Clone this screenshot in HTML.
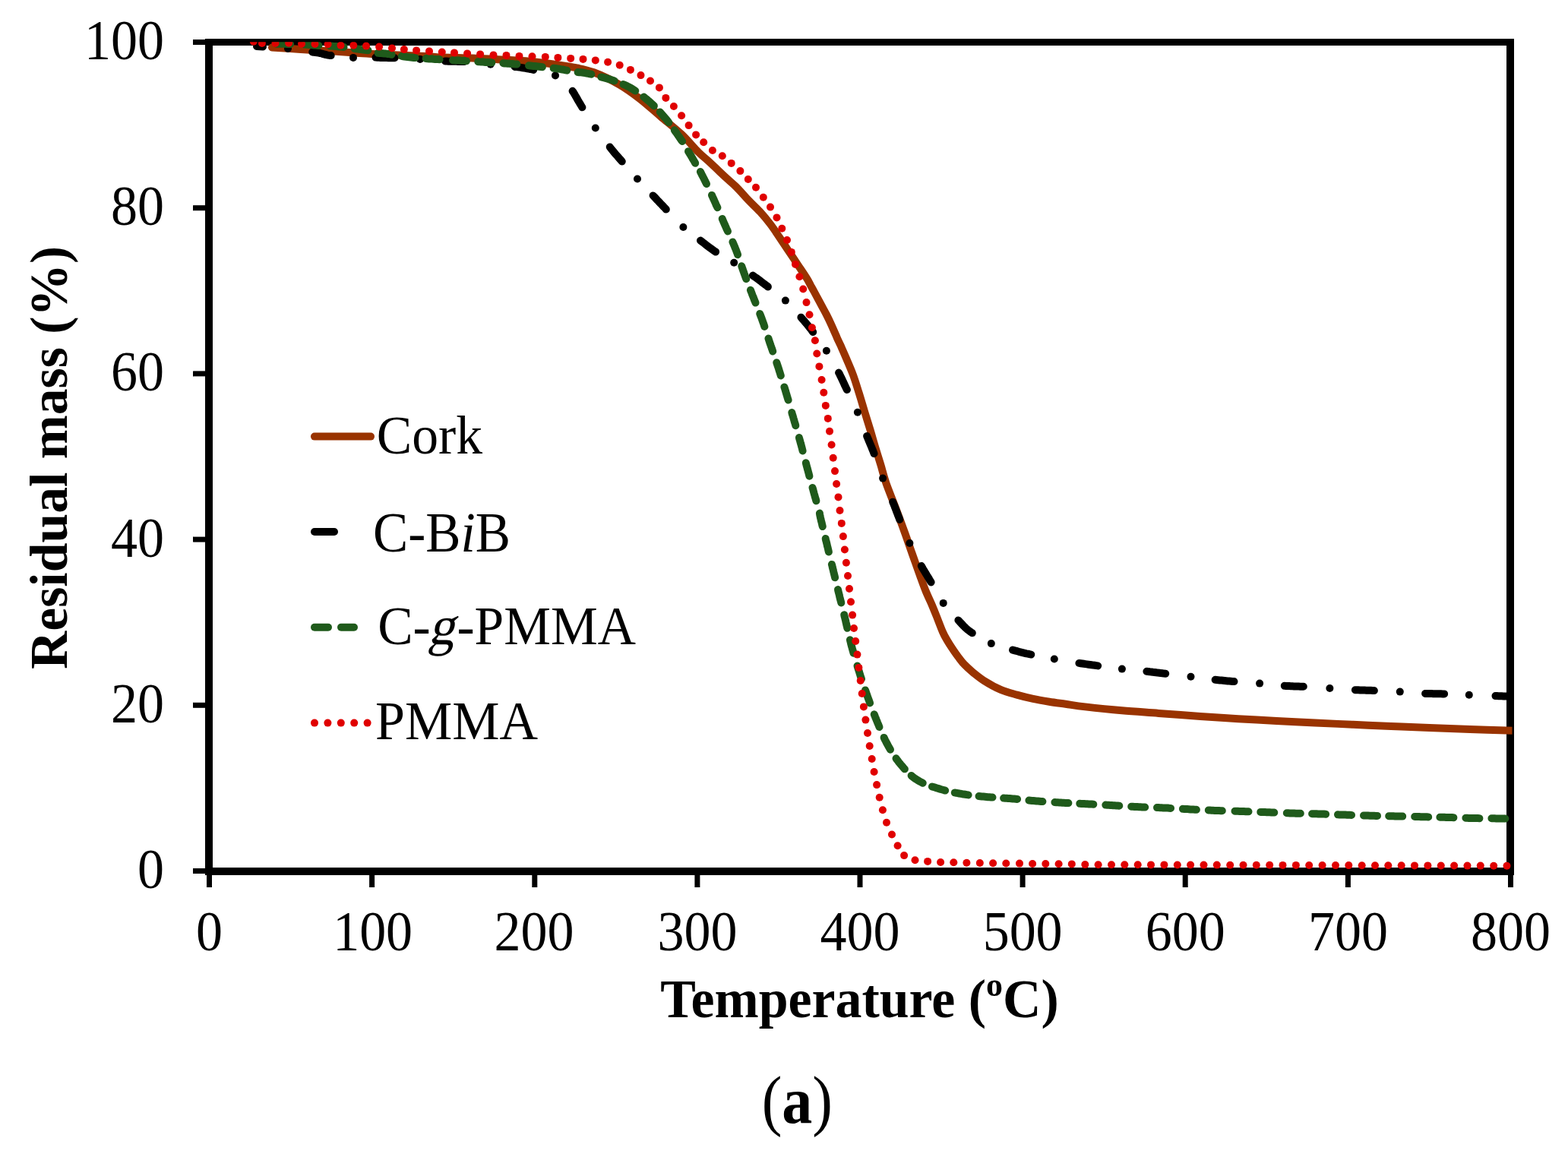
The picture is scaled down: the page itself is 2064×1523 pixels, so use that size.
<!DOCTYPE html>
<html><head><meta charset="utf-8"><title>TGA</title>
<style>html,body{margin:0;padding:0;background:#fff;overflow:hidden}svg{display:block}text{font-family:"Liberation Serif","Times New Roman",serif;fill:#000}</style>
</head><body>
<svg width="2064" height="1523" viewBox="0 0 2064 1523">
<rect x="0" y="0" width="2064" height="1523" fill="#fff"/>
<defs><clipPath id="pa"><rect x="275" y="55.3" width="1715.5" height="1091.7"/></clipPath></defs>
<g stroke="#000" fill="none" stroke-linecap="butt">
<line x1="270" y1="55.5" x2="1993" y2="55.5" stroke-width="9"/>
<line x1="270" y1="1147" x2="1993" y2="1147" stroke-width="10"/>
<line x1="275" y1="51" x2="275" y2="1152" stroke-width="10"/>
<line x1="1988" y1="51" x2="1988" y2="1152" stroke-width="10"/>
<line x1="254" y1="1146.5" x2="272" y2="1146.5" stroke-width="7"/>
<line x1="254" y1="928.3" x2="272" y2="928.3" stroke-width="7"/>
<line x1="254" y1="710.1" x2="272" y2="710.1" stroke-width="7"/>
<line x1="254" y1="491.9" x2="272" y2="491.9" stroke-width="7"/>
<line x1="254" y1="273.7" x2="272" y2="273.7" stroke-width="7"/>
<line x1="254" y1="55.5" x2="272" y2="55.5" stroke-width="7"/>
<line x1="275.5" y1="1150" x2="275.5" y2="1168" stroke-width="7"/>
<line x1="489.6" y1="1150" x2="489.6" y2="1168" stroke-width="7"/>
<line x1="703.8" y1="1150" x2="703.8" y2="1168" stroke-width="7"/>
<line x1="917.9" y1="1150" x2="917.9" y2="1168" stroke-width="7"/>
<line x1="1132.0" y1="1150" x2="1132.0" y2="1168" stroke-width="7"/>
<line x1="1346.1" y1="1150" x2="1346.1" y2="1168" stroke-width="7"/>
<line x1="1560.2" y1="1150" x2="1560.2" y2="1168" stroke-width="7"/>
<line x1="1774.4" y1="1150" x2="1774.4" y2="1168" stroke-width="7"/>
<line x1="1988.5" y1="1150" x2="1988.5" y2="1168" stroke-width="7"/>
</g>
<g font-size="70">
<text transform="translate(216.10 1169.00) scale(1.0000 1.0700)" text-anchor="end">0</text>
<text transform="translate(216.10 950.80) scale(1.0000 1.0700)" text-anchor="end">20</text>
<text transform="translate(216.10 732.60) scale(1.0000 1.0700)" text-anchor="end">40</text>
<text transform="translate(216.10 514.40) scale(1.0000 1.0700)" text-anchor="end">60</text>
<text transform="translate(216.10 296.20) scale(1.0000 1.0700)" text-anchor="end">80</text>
<text transform="translate(216.10 78.00) scale(1.0000 1.0700)" text-anchor="end">100</text>
<text transform="translate(275.50 1251.00) scale(1.0000 1.0700)" text-anchor="middle">0</text>
<text transform="translate(490.62 1251.00) scale(1.0000 1.0700)" text-anchor="middle">100</text>
<text transform="translate(703.05 1251.00) scale(1.0000 1.0700)" text-anchor="middle">200</text>
<text transform="translate(917.88 1251.00) scale(1.0000 1.0700)" text-anchor="middle">300</text>
<text transform="translate(1132.00 1251.00) scale(1.0000 1.0700)" text-anchor="middle">400</text>
<text transform="translate(1346.12 1251.00) scale(1.0000 1.0700)" text-anchor="middle">500</text>
<text transform="translate(1560.25 1251.00) scale(1.0000 1.0700)" text-anchor="middle">600</text>
<text transform="translate(1774.38 1251.00) scale(1.0000 1.0700)" text-anchor="middle">700</text>
<text transform="translate(1988.50 1251.00) scale(1.0000 1.0700)" text-anchor="middle">800</text>
</g>
<text transform="translate(1131.50 1338.70) scale(0.9980 1.0200)" font-size="70" font-weight="bold" text-anchor="middle">Temperature (<tspan font-size="44" dy="-27">o</tspan><tspan dy="27">C)</tspan></text>
<text transform="translate(88,602.4) rotate(-90) scale(0.995 1)" font-size="70" font-weight="bold" text-anchor="middle">Residual mass (%)</text>
<text transform="translate(1049.35 1478.00) scale(1.0000 1.1000)" font-size="80" text-anchor="middle">(<tspan font-weight="bold">a</tspan>)</text>
<g clip-path="url(#pa)" fill="none" stroke-width="10" stroke-linecap="round" stroke-linejoin="round">
<path d="M358.0 62.5 C360.8 62.7 368.7 63.1 375.0 63.5 C381.3 63.9 388.5 64.5 396.0 65.0 C403.5 65.5 411.7 66.0 420.0 66.5 C428.3 67.0 437.2 67.4 446.0 68.0 C454.8 68.6 464.0 69.4 473.0 70.0 C482.0 70.6 492.3 71.1 500.0 71.5 C507.7 71.9 510.7 72.0 519.0 72.3 C527.3 72.6 539.3 73.0 550.0 73.5 C560.7 74.0 571.0 75.0 583.0 75.5 C595.0 76.0 610.0 76.0 622.0 76.5 C634.0 77.0 643.3 77.6 655.0 78.2 C666.7 78.8 681.3 79.5 692.0 80.3 C702.7 81.1 708.5 81.8 719.0 83.2 C729.5 84.6 744.5 86.7 755.0 88.7 C765.5 90.7 771.6 91.5 781.7 95.3 C791.8 99.1 805.5 105.7 815.7 111.6 C825.9 117.5 833.8 123.5 842.8 130.5 C851.8 137.5 860.8 145.9 869.9 153.6 C879.0 161.3 888.9 169.0 897.1 176.7 C905.3 184.4 913.1 194.1 919.0 200.0 C924.9 205.9 926.5 206.5 932.6 212.2 C938.7 217.8 949.6 228.2 955.7 233.9 C961.8 239.6 964.2 241.1 969.2 246.1 C974.2 251.1 980.3 258.4 985.5 263.8 C990.7 269.2 995.6 273.5 1000.4 278.7 C1005.1 283.9 1009.7 289.4 1014.0 295.0 C1018.3 300.6 1022.4 307.0 1026.2 312.6 C1030.0 318.2 1033.0 322.8 1037.1 328.9 C1041.2 335.0 1046.4 342.9 1050.6 349.2 C1054.8 355.5 1059.6 362.5 1062.3 366.9 C1065.0 371.2 1065.3 372.4 1066.9 375.3 C1068.5 378.2 1069.5 379.9 1071.7 384.0 C1073.9 388.1 1077.4 394.6 1080.1 399.7 C1082.8 404.8 1085.7 409.9 1088.0 414.4 C1090.3 418.9 1091.7 421.8 1094.0 426.8 C1096.3 431.8 1099.7 439.8 1101.7 444.4 C1103.7 448.9 1104.3 449.8 1106.2 454.1 C1108.1 458.4 1110.4 463.4 1113.2 470.0 C1116.0 476.6 1120.1 485.7 1123.0 493.6 C1125.9 501.5 1128.2 509.4 1130.7 517.3 C1133.2 525.2 1135.4 533.0 1137.8 540.9 C1140.2 548.8 1142.7 556.6 1145.1 564.5 C1147.5 572.4 1149.6 580.2 1152.0 588.1 C1154.4 596.0 1156.9 603.9 1159.3 611.8 C1161.7 619.7 1162.9 625.8 1166.2 635.4 C1169.5 645.0 1175.3 658.9 1179.3 669.5 C1183.3 680.1 1186.7 689.2 1190.2 699.0 C1193.8 708.8 1197.1 718.7 1200.6 728.5 C1204.1 738.3 1208.0 749.6 1211.1 758.0 C1214.2 766.4 1216.3 772.5 1219.0 779.0 C1221.7 785.5 1224.7 791.5 1227.0 797.0 C1229.3 802.5 1230.8 806.2 1233.1 812.0 C1235.4 817.8 1238.8 826.9 1241.0 832.0 C1243.2 837.1 1244.5 839.1 1246.6 842.6 C1248.6 846.1 1250.9 849.7 1253.3 853.3 C1255.7 856.9 1258.1 860.5 1260.8 864.0 C1263.5 867.5 1265.9 871.1 1269.3 874.6 C1272.7 878.1 1276.5 881.6 1281.0 885.3 C1285.5 888.9 1290.0 892.7 1296.0 896.5 C1302.0 900.3 1310.2 904.9 1317.3 907.9 C1324.4 910.9 1331.5 912.6 1338.6 914.6 C1345.7 916.6 1352.8 918.4 1359.9 919.9 C1367.0 921.4 1374.1 922.6 1381.2 923.8 C1388.3 924.9 1394.7 925.7 1402.6 926.8 C1410.5 927.9 1416.0 929.0 1428.4 930.4 C1440.8 931.8 1460.8 933.9 1476.9 935.3 C1493.1 936.7 1508.1 937.6 1525.3 938.9 C1542.5 940.2 1562.5 941.8 1580.0 943.0 C1597.5 944.2 1613.2 945.2 1630.0 946.2 C1646.8 947.2 1663.7 948.0 1680.5 948.9 C1697.3 949.8 1714.2 950.7 1731.0 951.5 C1747.8 952.3 1764.3 953.0 1781.0 953.8 C1797.7 954.5 1814.2 955.3 1831.0 956.0 C1847.8 956.7 1864.3 957.3 1881.6 958.0 C1898.9 958.7 1916.6 959.4 1935.0 960.0 C1953.4 960.6 1982.5 961.6 1992.0 961.9" stroke="#993300"/>
<g stroke="#000">
<path d="M338 61 L346 61.5"/>
<path d="M411.2 68.5 L413.2 68.8 L415.3 69.0 L417.4 69.3 L419.4 69.6 L421.5 70.0 L423.5 70.5 L425.5 71.1 L427.5 71.6 L429.5 72.2 L431.6 72.6 L433.6 72.9 L435.7 73.1"/>
<path d="M494.5 75.6 L496.6 75.7 L498.7 75.8 L500.8 75.9 L502.8 76.0 L504.9 76.0 L507.0 76.1 L509.1 76.1 L511.2 76.2 L513.2 76.2 L515.3 76.3 L517.4 76.3 L519.5 76.3"/>
<path d="M586.0 80.5 L588.1 80.6 L590.2 80.7 L592.3 80.7 L594.3 80.7 L596.4 80.8 L598.5 80.8 L600.6 80.8 L602.7 80.9 L604.7 80.9 L606.8 80.9 L608.9 81.0 L611.0 81.1"/>
<path d="M677.6 87.9 L679.7 88.1 L681.8 88.3 L683.8 88.6 L685.9 88.9 L687.9 89.3 L690.0 89.6 L692.1 89.9 L694.1 90.3 L696.2 90.7 L698.2 91.1 L700.3 91.4 L702.3 91.9"/>
<path d="M753.6 119.8 L754.8 121.5 L755.9 123.3 L756.9 125.1 L757.9 126.9 L759.0 128.7 L760.0 130.5 L761.0 132.3 L762.1 134.1 L763.1 135.9 L764.2 137.7 L765.3 139.5 L766.4 141.3"/>
<path d="M802.7 193.5 L804.0 195.2 L805.3 196.8 L806.6 198.4 L807.9 200.0 L809.2 201.6 L810.6 203.2 L812.0 204.8 L813.3 206.3 L814.7 207.9 L816.1 209.5 L817.5 211.0 L818.8 212.6"/>
<path d="M859.6 257.4 L861.0 258.9 L862.5 260.4 L863.9 262.0 L865.3 263.5 L866.8 265.0 L868.2 266.5 L869.6 268.0 L871.1 269.5 L872.5 271.0 L873.9 272.5 L875.4 274.0 L876.8 275.6"/>
<path d="M922.0 316.6 L923.7 317.8 L925.3 319.1 L927.0 320.4 L928.6 321.7 L930.2 322.9 L931.9 324.2 L933.6 325.5 L935.2 326.7 L936.9 327.9 L938.6 329.1 L940.3 330.3 L942.1 331.5"/>
<path d="M990.9 362.6 L992.6 363.8 L994.3 365.0 L996.0 366.2 L997.7 367.4 L999.3 368.7 L1001.0 369.9 L1002.7 371.2 L1004.3 372.4 L1006.0 373.7 L1007.6 375.0 L1009.3 376.2 L1010.9 377.5"/>
<path d="M1054.4 417.7 L1055.7 419.3 L1057.1 420.9 L1058.5 422.4 L1059.8 424.0 L1061.2 425.6 L1062.5 427.2 L1063.8 428.8 L1065.1 430.4 L1066.4 432.1 L1067.7 433.7 L1068.9 435.4 L1070.2 437.1"/>
<path d="M1104.1 490.6 L1105.1 492.4 L1106.0 494.3 L1106.9 496.2 L1107.8 498.0 L1108.7 499.9 L1109.6 501.8 L1110.5 503.7 L1111.3 505.6 L1112.2 507.5 L1113.1 509.4 L1114.0 511.2 L1114.9 513.1"/>
<path d="M1141.1 574.0 L1141.9 575.9 L1142.7 577.8 L1143.5 579.7 L1144.3 581.7 L1145.1 583.6 L1145.9 585.5 L1146.7 587.4 L1147.5 589.3 L1148.3 591.3 L1149.1 593.2 L1149.8 595.1 L1150.6 597.1"/>
<path d="M1175.2 660.7 L1176.0 662.6 L1176.8 664.5 L1177.6 666.5 L1178.3 668.4 L1179.1 670.4 L1179.8 672.3 L1180.5 674.2 L1181.3 676.2 L1182.0 678.1 L1182.8 680.1 L1183.6 682.0 L1184.3 683.9"/>
<path d="M1212.8 744.9 L1213.8 746.7 L1214.8 748.5 L1215.9 750.3 L1217.0 752.1 L1218.0 753.9 L1219.1 755.7 L1220.2 757.5 L1221.3 759.3 L1222.4 761.0 L1223.4 762.8 L1224.5 764.6 L1225.6 766.4"/>
<path d="M1261.4 816.4 L1262.8 817.9 L1264.3 819.5 L1265.7 821.0 L1267.1 822.5 L1268.5 824.0 L1270.0 825.5 L1271.5 826.9 L1273.1 828.3 L1274.7 829.6 L1276.4 830.9 L1278.1 832.1 L1279.8 833.2"/>
<path d="M1333.0 855.6 L1335.0 856.1 L1337.0 856.7 L1339.1 857.2 L1341.1 857.8 L1343.1 858.3 L1345.1 858.8 L1347.1 859.3 L1349.1 859.8 L1351.2 860.3 L1353.2 860.7 L1355.2 861.2 L1357.3 861.6"/>
<path d="M1420.4 872.9 L1422.5 873.2 L1424.6 873.5 L1426.6 873.8 L1428.7 874.1 L1430.7 874.4 L1432.8 874.7 L1434.9 875.0 L1436.9 875.3 L1439.0 875.6 L1441.1 875.8 L1443.1 876.1 L1445.2 876.4"/>
<path d="M1509.4 883.8 L1511.5 884.0 L1513.5 884.3 L1515.6 884.5 L1517.7 884.8 L1519.7 885.0 L1521.8 885.3 L1523.9 885.6 L1525.9 885.8 L1528.0 886.1 L1530.1 886.3 L1532.1 886.6 L1534.2 886.8"/>
<path d="M1599.6 894.8 L1601.6 895.0 L1603.7 895.2 L1605.8 895.4 L1607.9 895.6 L1609.9 895.8 L1612.0 896.0 L1614.1 896.2 L1616.2 896.4 L1618.2 896.5 L1620.3 896.7 L1622.4 896.9 L1624.5 897.1"/>
<path d="M1690.8 902.8 L1692.9 902.9 L1695.0 903.1 L1697.1 903.1 L1699.1 903.2 L1701.2 903.3 L1703.3 903.4 L1705.4 903.5 L1707.5 903.5 L1709.5 903.6 L1711.6 903.7 L1713.7 903.8 L1715.8 903.8"/>
<path d="M1783.9 908.2 L1786.0 908.3 L1788.1 908.3 L1790.2 908.4 L1792.2 908.5 L1794.3 908.5 L1796.4 908.6 L1798.5 908.7 L1800.6 908.7 L1802.6 908.8 L1804.7 908.8 L1806.8 908.9 L1808.9 909.0"/>
<path d="M1876.1 912.9 L1878.2 913.0 L1880.3 913.0 L1882.4 913.1 L1884.4 913.1 L1886.5 913.2 L1888.6 913.2 L1890.7 913.2 L1892.8 913.3 L1894.8 913.3 L1896.9 913.3 L1899.0 913.4 L1901.1 913.4"/>
<path d="M1968.5 916.1 L1970.6 916.1 L1972.7 916.2 L1974.8 916.3 L1976.8 916.3 L1978.9 916.4 L1981.0 916.4 L1983.1 916.4 L1985.2 916.5 L1987.2 916.5 L1989.0 916.6 L1989.0 916.6 L1989.0 916.6"/>
</g>
<g fill="#000" stroke="none">
<circle cx="379.0" cy="63.9" r="5"/>
<circle cx="465.0" cy="75.9" r="5"/>
<circle cx="553.0" cy="77.9" r="5"/>
<circle cx="645.7" cy="84.8" r="5"/>
<circle cx="731.0" cy="99.4" r="5"/>
<circle cx="783.8" cy="168.5" r="5"/>
<circle cx="839.0" cy="235.5" r="5"/>
<circle cx="899.4" cy="299.0" r="5"/>
<circle cx="966.2" cy="345.8" r="5"/>
<circle cx="1033.9" cy="395.6" r="5"/>
<circle cx="1087.9" cy="461.8" r="5"/>
<circle cx="1128.9" cy="542.7" r="5"/>
<circle cx="1162.1" cy="629.6" r="5"/>
<circle cx="1197.4" cy="715.0" r="5"/>
<circle cx="1241.7" cy="793.9" r="5"/>
<circle cx="1304.8" cy="847.1" r="5"/>
<circle cx="1387.8" cy="867.5" r="5"/>
<circle cx="1476.9" cy="880.6" r="5"/>
<circle cx="1567.5" cy="890.7" r="5"/>
<circle cx="1658.1" cy="899.6" r="5"/>
<circle cx="1750.4" cy="906.0" r="5"/>
<circle cx="1842.8" cy="910.6" r="5"/>
<circle cx="1933.8" cy="914.8" r="5"/>
</g>
<g stroke="#1f5a1b">
<path d="M364.1 57.7 L366.1 57.8 L368.1 57.8 L370.1 57.8 L372.1 57.8 L374.1 57.8 L376.1 57.8 L378.1 57.9 L380.1 57.9 L382.1 58.0"/>
<path d="M401.4 58.6 L403.4 58.7 L405.4 58.8 L407.4 59.0 L409.4 59.1 L411.4 59.3 L413.4 59.4 L415.4 59.6 L417.4 59.8 L419.4 59.9"/>
<path d="M434.6 60.5 L436.6 60.6 L438.6 60.8 L440.6 60.9 L442.6 61.1 L444.6 61.3 L446.6 61.5 L448.6 61.6 L450.6 61.8 L452.6 62.0"/>
<path d="M466.7 64.1 L468.6 64.3 L470.6 64.5 L472.6 64.7 L474.6 65.0 L476.6 65.2 L478.6 65.5 L480.6 65.8 L482.5 66.0 L484.5 66.3"/>
<path d="M497.6 69.8 L499.6 69.9 L501.6 70.0 L503.6 70.2 L505.6 70.4 L507.6 70.6 L509.6 70.9 L511.6 71.1 L513.5 71.4 L515.5 71.8"/>
<path d="M528.7 73.9 L530.7 74.2 L532.6 74.5 L534.6 74.8 L536.6 75.1 L538.6 75.3 L540.6 75.5 L542.6 75.7 L544.6 75.9 L546.6 76.1"/>
<path d="M560.6 77.1 L562.6 77.3 L564.6 77.4 L566.6 77.5 L568.6 77.6 L570.6 77.8 L572.6 77.9 L574.6 78.0 L576.6 78.1 L578.6 78.3"/>
<path d="M596.0 79.2 L598.0 79.3 L600.0 79.4 L602.0 79.5 L604.0 79.6 L606.0 79.8 L608.0 79.9 L610.0 80.0 L612.0 80.1 L614.0 80.3"/>
<path d="M629.3 81.2 L631.3 81.3 L633.3 81.5 L635.3 81.6 L637.3 81.7 L639.3 81.9 L641.3 82.0 L643.3 82.1 L645.3 82.2 L647.3 82.4"/>
<path d="M662.4 83.2 L664.4 83.4 L666.4 83.5 L668.4 83.7 L670.4 83.8 L672.4 84.0 L674.4 84.1 L676.4 84.3 L678.4 84.5 L680.4 84.6"/>
<path d="M696.0 86.3 L698.0 86.5 L700.0 86.7 L702.0 86.9 L704.0 87.1 L706.0 87.3 L708.0 87.5 L710.0 87.7 L712.0 87.9 L713.9 88.2"/>
<path d="M728.6 89.8 L730.6 90.0 L732.6 90.3 L734.5 90.6 L736.5 90.8 L738.5 91.2 L740.5 91.5 L742.4 91.9 L744.4 92.3 L746.3 92.7"/>
<path d="M760.6 95.0 L762.6 95.2 L764.6 95.3 L766.5 95.5 L768.5 95.8 L770.5 96.2 L772.4 96.6 L774.4 96.9 L776.4 97.3 L778.3 97.7"/>
<path d="M791.4 101.4 L793.3 101.9 L795.3 102.4 L797.2 102.9 L799.1 103.4 L801.1 104.0 L803.0 104.6 L804.9 105.2 L806.8 105.8 L808.7 106.4"/>
<path d="M820.5 111.0 L822.3 111.8 L824.2 112.6 L825.9 113.5 L827.7 114.4 L829.5 115.4 L831.2 116.4 L832.9 117.4 L834.6 118.5 L836.3 119.6"/>
<path d="M847.3 127.6 L848.9 128.8 L850.5 130.1 L852.0 131.4 L853.5 132.7 L855.1 134.0 L856.6 135.3 L858.0 136.6 L859.5 138.0 L860.9 139.4"/>
<path d="M868.8 147.5 L870.1 149.0 L871.4 150.5 L872.7 152.0 L874.0 153.5 L875.3 155.1 L876.6 156.6 L877.9 158.1 L879.1 159.7 L880.4 161.3"/>
<path d="M887.8 171.3 L889.0 173.0 L890.1 174.6 L891.3 176.2 L892.4 177.9 L893.6 179.5 L894.7 181.2 L895.8 182.8 L896.9 184.5 L898.1 186.1"/>
<path d="M906.0 199.3 L907.1 201.0 L908.1 202.7 L909.2 204.4 L910.2 206.1 L911.2 207.9 L912.2 209.6 L913.2 211.3 L914.2 213.0 L915.2 214.8"/>
<path d="M921.9 226.0 L922.8 227.8 L923.7 229.6 L924.6 231.3 L925.5 233.1 L926.5 234.9 L927.4 236.7 L928.2 238.5 L929.1 240.3 L930.0 242.1"/>
<path d="M937.0 256.9 L937.8 258.7 L938.6 260.5 L939.5 262.4 L940.3 264.2 L941.1 266.0 L941.9 267.8 L942.7 269.7 L943.6 271.5 L944.4 273.3"/>
<path d="M950.7 288.0 L951.5 289.9 L952.3 291.7 L953.1 293.6 L953.9 295.4 L954.7 297.2 L955.5 299.0 L956.3 300.9 L957.2 302.7 L958.0 304.5"/>
<path d="M964.4 318.5 L965.2 320.3 L966.0 322.2 L966.8 324.0 L967.5 325.9 L968.3 327.7 L969.0 329.6 L969.7 331.5 L970.4 333.3 L971.1 335.2"/>
<path d="M976.2 350.3 L976.9 352.2 L977.5 354.1 L978.2 356.0 L978.9 357.9 L979.5 359.7 L980.2 361.6 L980.9 363.5 L981.6 365.4 L982.3 367.2"/>
<path d="M987.9 381.8 L988.7 383.7 L989.4 385.5 L990.1 387.4 L990.8 389.3 L991.6 391.1 L992.3 393.0 L993.0 394.9 L993.8 396.7 L994.5 398.6"/>
<path d="M1000.2 413.0 L1000.9 414.8 L1001.7 416.7 L1002.4 418.6 L1003.1 420.5 L1003.7 422.3 L1004.4 424.2 L1005.1 426.1 L1005.7 428.0 L1006.4 429.9"/>
<path d="M1011.5 445.5 L1012.1 447.4 L1012.7 449.3 L1013.3 451.2 L1014.0 453.1 L1014.6 454.9 L1015.3 456.8 L1015.9 458.7 L1016.6 460.6 L1017.2 462.5"/>
<path d="M1022.3 477.3 L1022.9 479.1 L1023.5 481.0 L1024.2 482.9 L1024.8 484.8 L1025.4 486.8 L1026.0 488.7 L1026.6 490.6 L1027.2 492.5 L1027.8 494.4"/>
<path d="M1032.4 509.4 L1033.0 511.3 L1033.6 513.2 L1034.1 515.1 L1034.7 517.0 L1035.3 519.0 L1035.9 520.9 L1036.4 522.8 L1037.0 524.7 L1037.6 526.6"/>
<path d="M1042.3 543.0 L1042.8 544.9 L1043.4 546.8 L1044.0 548.7 L1044.5 550.6 L1045.1 552.6 L1045.6 554.5 L1046.2 556.4 L1046.8 558.3 L1047.3 560.2"/>
<path d="M1051.9 576.1 L1052.4 578.1 L1053.0 580.0 L1053.5 581.9 L1054.0 583.8 L1054.6 585.8 L1055.1 587.7 L1055.6 589.6 L1056.1 591.6 L1056.6 593.5"/>
<path d="M1060.8 609.3 L1061.3 611.2 L1061.8 613.2 L1062.3 615.1 L1062.8 617.0 L1063.4 619.0 L1063.9 620.9 L1064.4 622.8 L1064.9 624.8 L1065.4 626.7"/>
<path d="M1069.5 641.9 L1070.1 643.8 L1070.6 645.8 L1071.1 647.7 L1071.6 649.6 L1072.2 651.6 L1072.7 653.5 L1073.3 655.4 L1073.8 657.3 L1074.4 659.3"/>
<path d="M1078.9 675.6 L1079.2 677.6 L1079.6 679.5 L1080.0 681.5 L1080.5 683.4 L1080.9 685.4 L1081.4 687.3 L1081.9 689.3 L1082.3 691.2 L1082.8 693.1"/>
<path d="M1086.7 709.0 L1087.1 710.9 L1087.6 712.8 L1088.1 714.8 L1088.6 716.7 L1089.0 718.7 L1089.5 720.6 L1090.0 722.6 L1090.4 724.5 L1090.9 726.4"/>
<path d="M1094.9 742.9 L1095.4 744.8 L1095.8 746.7 L1096.3 748.7 L1096.8 750.6 L1097.2 752.6 L1097.7 754.5 L1098.2 756.5 L1098.7 758.4 L1099.1 760.3"/>
<path d="M1103.0 776.1 L1103.4 778.0 L1103.9 779.9 L1104.4 781.9 L1104.9 783.8 L1105.3 785.8 L1105.8 787.7 L1106.3 789.7 L1106.8 791.6 L1107.3 793.5"/>
<path d="M1111.2 809.3 L1111.6 811.2 L1112.1 813.1 L1112.6 815.1 L1113.1 817.0 L1113.5 819.0 L1114.0 820.9 L1114.4 822.9 L1114.9 824.8 L1115.3 826.8"/>
<path d="M1118.9 842.3 L1119.4 844.2 L1119.9 846.2 L1120.3 848.1 L1120.8 850.0 L1121.4 852.0 L1121.9 853.9 L1122.4 855.8 L1123.0 857.8 L1123.5 859.7"/>
<path d="M1128.5 876.5 L1129.1 878.4 L1129.7 880.3 L1130.3 882.2 L1130.9 884.1 L1131.5 886.1 L1132.1 888.0 L1132.7 889.9 L1133.3 891.8 L1134.0 893.7"/>
<path d="M1139.0 908.4 L1139.7 910.3 L1140.3 912.2 L1141.0 914.1 L1141.7 916.0 L1142.3 917.8 L1143.0 919.7 L1143.7 921.6 L1144.4 923.5 L1145.1 925.4"/>
<path d="M1150.7 940.3 L1151.5 942.2 L1152.2 944.1 L1153.0 945.9 L1153.7 947.8 L1154.5 949.6 L1155.2 951.5 L1156.0 953.3 L1156.8 955.2 L1157.5 957.0"/>
<path d="M1163.6 970.9 L1164.4 972.7 L1165.3 974.5 L1166.2 976.2 L1167.1 978.0 L1168.1 979.8 L1169.0 981.5 L1170.0 983.3 L1171.0 985.0 L1172.0 986.7"/>
<path d="M1179.5 998.3 L1180.7 1000.0 L1181.9 1001.6 L1183.1 1003.2 L1184.4 1004.7 L1185.6 1006.3 L1186.9 1007.8 L1188.2 1009.3 L1189.5 1010.8 L1190.9 1012.3"/>
<path d="M1199.6 1021.0 L1201.2 1022.3 L1202.7 1023.5 L1204.3 1024.7 L1206.0 1025.8 L1207.7 1026.9 L1209.4 1027.9 L1211.1 1028.9 L1212.9 1029.8 L1214.7 1030.7"/>
<path d="M1226.9 1035.4 L1228.8 1036.0 L1230.7 1036.6 L1232.6 1037.2 L1234.5 1037.8 L1236.5 1038.4 L1238.4 1039.0 L1240.3 1039.5 L1242.2 1040.0 L1244.2 1040.6"/>
<path d="M1256.8 1043.4 L1258.8 1043.8 L1260.8 1044.1 L1262.7 1044.5 L1264.7 1044.8 L1266.7 1045.2 L1268.7 1045.5 L1270.6 1045.8 L1272.6 1046.1 L1274.6 1046.4"/>
<path d="M1288.5 1048.0 L1290.5 1048.2 L1292.5 1048.4 L1294.5 1048.6 L1296.5 1048.8 L1298.5 1049.0 L1300.5 1049.2 L1302.5 1049.3 L1304.5 1049.5 L1306.5 1049.6"/>
<path d="M1321.1 1050.6 L1323.1 1050.7 L1325.1 1050.8 L1327.1 1051.0 L1329.1 1051.1 L1331.1 1051.3 L1333.1 1051.5 L1335.1 1051.6 L1337.1 1051.8 L1339.1 1052.0"/>
<path d="M1354.4 1053.5 L1356.4 1053.7 L1358.4 1053.9 L1360.4 1054.0 L1362.4 1054.2 L1364.4 1054.4 L1366.4 1054.5 L1368.4 1054.7 L1370.4 1054.9 L1372.4 1055.0"/>
<path d="M1388.4 1056.0 L1390.4 1056.2 L1392.4 1056.3 L1394.4 1056.4 L1396.4 1056.5 L1398.4 1056.7 L1400.4 1056.8 L1402.4 1056.9 L1404.4 1057.0 L1406.4 1057.1"/>
<path d="M1421.3 1057.8 L1423.3 1057.9 L1425.3 1058.0 L1427.3 1058.1 L1429.3 1058.2 L1431.3 1058.3 L1433.3 1058.4 L1435.3 1058.5 L1437.3 1058.6 L1439.3 1058.7"/>
<path d="M1455.3 1059.6 L1457.3 1059.7 L1459.3 1059.8 L1461.3 1059.9 L1463.3 1060.0 L1465.3 1060.2 L1467.3 1060.3 L1469.3 1060.4 L1471.3 1060.5 L1473.3 1060.7"/>
<path d="M1489.2 1061.7 L1491.2 1061.8 L1493.2 1061.9 L1495.2 1062.0 L1497.2 1062.1 L1499.2 1062.2 L1501.2 1062.3 L1503.2 1062.4 L1505.2 1062.5 L1507.2 1062.6"/>
<path d="M1523.0 1063.1 L1525.0 1063.1 L1527.0 1063.2 L1529.0 1063.3 L1531.0 1063.4 L1533.0 1063.4 L1535.0 1063.5 L1537.0 1063.6 L1539.0 1063.8 L1541.0 1063.9"/>
<path d="M1556.9 1064.8 L1558.9 1064.9 L1560.9 1065.0 L1562.9 1065.1 L1564.9 1065.2 L1566.9 1065.4 L1568.9 1065.5 L1570.9 1065.6 L1572.9 1065.7 L1574.9 1065.8"/>
<path d="M1590.8 1066.5 L1592.8 1066.6 L1594.8 1066.7 L1596.8 1066.8 L1598.8 1066.9 L1600.8 1066.9 L1602.8 1067.0 L1604.8 1067.1 L1606.8 1067.2 L1608.8 1067.2"/>
<path d="M1625.5 1067.7 L1627.5 1067.8 L1629.5 1067.8 L1631.5 1067.9 L1633.5 1068.0 L1635.5 1068.0 L1637.5 1068.1 L1639.5 1068.2 L1641.5 1068.2 L1643.5 1068.3"/>
<path d="M1659.3 1068.9 L1661.3 1068.9 L1663.3 1069.0 L1665.3 1069.1 L1667.3 1069.2 L1669.3 1069.2 L1671.3 1069.3 L1673.3 1069.4 L1675.3 1069.5 L1677.3 1069.6"/>
<path d="M1693.8 1070.3 L1695.8 1070.3 L1697.8 1070.4 L1699.8 1070.5 L1701.8 1070.6 L1703.8 1070.6 L1705.8 1070.7 L1707.8 1070.7 L1709.8 1070.8 L1711.8 1070.8"/>
<path d="M1727.1 1071.2 L1729.1 1071.2 L1731.1 1071.3 L1733.1 1071.3 L1735.1 1071.4 L1737.1 1071.4 L1739.1 1071.5 L1741.1 1071.6 L1743.1 1071.6 L1745.1 1071.7"/>
<path d="M1761.0 1072.3 L1763.0 1072.4 L1765.0 1072.4 L1767.0 1072.5 L1769.0 1072.6 L1771.0 1072.6 L1773.0 1072.7 L1775.0 1072.8 L1777.0 1072.8 L1779.0 1072.9"/>
<path d="M1795.0 1073.4 L1797.0 1073.5 L1799.0 1073.6 L1801.0 1073.6 L1803.0 1073.7 L1805.0 1073.7 L1807.0 1073.8 L1809.0 1073.8 L1811.0 1073.9 L1813.0 1073.9"/>
<path d="M1828.2 1074.2 L1830.2 1074.3 L1832.2 1074.3 L1834.2 1074.3 L1836.2 1074.4 L1838.2 1074.4 L1840.2 1074.5 L1842.2 1074.5 L1844.2 1074.6 L1846.2 1074.6"/>
<path d="M1862.2 1075.0 L1864.2 1075.0 L1866.2 1075.1 L1868.2 1075.1 L1870.2 1075.2 L1872.2 1075.2 L1874.2 1075.3 L1876.2 1075.3 L1878.2 1075.3 L1880.2 1075.4"/>
<path d="M1895.4 1075.7 L1897.4 1075.7 L1899.4 1075.8 L1901.4 1075.8 L1903.4 1075.9 L1905.4 1075.9 L1907.4 1076.0 L1909.4 1076.0 L1911.4 1076.1 L1913.4 1076.2"/>
<path d="M1929.4 1076.7 L1931.4 1076.8 L1933.4 1076.9 L1935.4 1076.9 L1937.4 1077.0 L1939.4 1077.0 L1941.4 1077.1 L1943.4 1077.1 L1945.4 1077.1 L1947.4 1077.2"/>
<path d="M1963.4 1077.3 L1965.4 1077.3 L1967.4 1077.3 L1969.4 1077.4 L1971.4 1077.4 L1973.4 1077.4 L1975.4 1077.5 L1977.4 1077.5 L1979.4 1077.5 L1981.4 1077.6"/>
</g>
<g fill="#e00000" stroke="none">
<circle cx="333.8" cy="54.8" r="5"/>
<circle cx="344.9" cy="56.9" r="5"/>
<circle cx="362.5" cy="56.9" r="5"/>
<circle cx="380.1" cy="56.8" r="5"/>
<circle cx="397.0" cy="57.8" r="5"/>
<circle cx="414.5" cy="57.9" r="5"/>
<circle cx="431.6" cy="58.2" r="5"/>
<circle cx="448.5" cy="59.7" r="5"/>
<circle cx="465.3" cy="59.7" r="5"/>
<circle cx="482.0" cy="60.6" r="5"/>
<circle cx="499.1" cy="61.6" r="5"/>
<circle cx="516.0" cy="63.4" r="5"/>
<circle cx="531.9" cy="65.1" r="5"/>
<circle cx="548.1" cy="66.4" r="5"/>
<circle cx="565.0" cy="67.4" r="5"/>
<circle cx="581.8" cy="68.5" r="5"/>
<circle cx="598.0" cy="69.4" r="5"/>
<circle cx="615.1" cy="70.4" r="5"/>
<circle cx="632.1" cy="71.4" r="5"/>
<circle cx="649.5" cy="72.4" r="5"/>
<circle cx="666.5" cy="72.9" r="5"/>
<circle cx="683.5" cy="73.9" r="5"/>
<circle cx="700.5" cy="74.3" r="5"/>
<circle cx="717.8" cy="74.9" r="5"/>
<circle cx="734.4" cy="75.9" r="5"/>
<circle cx="751.2" cy="76.9" r="5"/>
<circle cx="767.5" cy="77.9" r="5"/>
<circle cx="783.8" cy="79.4" r="5"/>
<circle cx="800.1" cy="81.7" r="5"/>
<circle cx="815.7" cy="85.8" r="5"/>
<circle cx="829.9" cy="91.9" r="5"/>
<circle cx="843.5" cy="99.1" r="5"/>
<circle cx="856.0" cy="106.5" r="5"/>
<circle cx="867.9" cy="115.4" r="5"/>
<circle cx="876.4" cy="128.9" r="5"/>
<circle cx="886.9" cy="140.0" r="5"/>
<circle cx="897.1" cy="152.3" r="5"/>
<circle cx="906.6" cy="165.1" r="5"/>
<circle cx="916.1" cy="177.4" r="5"/>
<circle cx="926.2" cy="187.3" r="5"/>
<circle cx="937.9" cy="198.0" r="5"/>
<circle cx="950.8" cy="205.3" r="5"/>
<circle cx="962.7" cy="214.9" r="5"/>
<circle cx="974.4" cy="225.1" r="5"/>
<circle cx="984.8" cy="236.0" r="5"/>
<circle cx="995.0" cy="246.8" r="5"/>
<circle cx="1004.8" cy="259.7" r="5"/>
<circle cx="1014.0" cy="272.6" r="5"/>
<circle cx="1022.5" cy="286.4" r="5"/>
<circle cx="1029.3" cy="300.7" r="5"/>
<circle cx="1036.0" cy="316.0" r="5"/>
<circle cx="1041.8" cy="331.9" r="5"/>
<circle cx="1047.0" cy="347.9" r="5"/>
<circle cx="1052.4" cy="364.3" r="5"/>
<circle cx="1057.2" cy="380.5" r="5"/>
<circle cx="1061.5" cy="398.1" r="5"/>
<circle cx="1065.5" cy="414.3" r="5"/>
<circle cx="1068.9" cy="431.3" r="5"/>
<circle cx="1072.9" cy="448.3" r="5"/>
<circle cx="1075.3" cy="465.5" r="5"/>
<circle cx="1078.4" cy="482.4" r="5"/>
<circle cx="1081.6" cy="500.0" r="5"/>
<circle cx="1084.3" cy="516.7" r="5"/>
<circle cx="1086.8" cy="533.9" r="5"/>
<circle cx="1089.8" cy="550.9" r="5"/>
<circle cx="1092.0" cy="567.8" r="5"/>
<circle cx="1094.6" cy="585.5" r="5"/>
<circle cx="1096.7" cy="602.8" r="5"/>
<circle cx="1099.0" cy="620.1" r="5"/>
<circle cx="1101.1" cy="637.0" r="5"/>
<circle cx="1103.5" cy="654.4" r="5"/>
<circle cx="1105.5" cy="672.0" r="5"/>
<circle cx="1107.8" cy="688.9" r="5"/>
<circle cx="1109.9" cy="706.1" r="5"/>
<circle cx="1111.9" cy="723.5" r="5"/>
<circle cx="1113.9" cy="740.7" r="5"/>
<circle cx="1116.0" cy="758.0" r="5"/>
<circle cx="1118.0" cy="775.0" r="5"/>
<circle cx="1120.0" cy="792.3" r="5"/>
<circle cx="1122.1" cy="809.6" r="5"/>
<circle cx="1124.0" cy="827.0" r="5"/>
<circle cx="1126.2" cy="844.0" r="5"/>
<circle cx="1128.4" cy="861.6" r="5"/>
<circle cx="1130.4" cy="878.9" r="5"/>
<circle cx="1132.7" cy="896.0" r="5"/>
<circle cx="1134.7" cy="913.0" r="5"/>
<circle cx="1136.9" cy="930.4" r="5"/>
<circle cx="1139.4" cy="947.6" r="5"/>
<circle cx="1142.0" cy="965.0" r="5"/>
<circle cx="1144.7" cy="982.0" r="5"/>
<circle cx="1147.7" cy="999.0" r="5"/>
<circle cx="1150.6" cy="1016.0" r="5"/>
<circle cx="1154.1" cy="1033.1" r="5"/>
<circle cx="1157.7" cy="1049.7" r="5"/>
<circle cx="1161.9" cy="1066.3" r="5"/>
<circle cx="1167.0" cy="1082.7" r="5"/>
<circle cx="1174.0" cy="1098.5" r="5"/>
<circle cx="1181.6" cy="1113.3" r="5"/>
<circle cx="1190.1" cy="1126.1" r="5"/>
<circle cx="1204.5" cy="1132.3" r="5"/>
<circle cx="1221.1" cy="1133.9" r="5"/>
<circle cx="1238.1" cy="1135.0" r="5"/>
<circle cx="1255.3" cy="1135.2" r="5"/>
<circle cx="1272.4" cy="1135.7" r="5"/>
<circle cx="1289.8" cy="1136.0" r="5"/>
<circle cx="1307.1" cy="1136.2" r="5"/>
<circle cx="1324.3" cy="1136.5" r="5"/>
<circle cx="1342.0" cy="1136.6" r="5"/>
<circle cx="1359.1" cy="1137.0" r="5"/>
<circle cx="1376.3" cy="1137.1" r="5"/>
<circle cx="1393.6" cy="1137.2" r="5"/>
<circle cx="1410.8" cy="1137.4" r="5"/>
<circle cx="1428.3" cy="1138.1" r="5"/>
<circle cx="1445.6" cy="1138.2" r="5"/>
<circle cx="1463.0" cy="1138.2" r="5"/>
<circle cx="1480.3" cy="1138.3" r="5"/>
<circle cx="1497.7" cy="1138.3" r="5"/>
<circle cx="1515.0" cy="1138.4" r="5"/>
<circle cx="1532.4" cy="1138.4" r="5"/>
<circle cx="1549.8" cy="1138.5" r="5"/>
<circle cx="1567.1" cy="1138.5" r="5"/>
<circle cx="1584.5" cy="1138.6" r="5"/>
<circle cx="1601.8" cy="1138.6" r="5"/>
<circle cx="1619.2" cy="1138.7" r="5"/>
<circle cx="1636.5" cy="1138.7" r="5"/>
<circle cx="1653.8" cy="1138.8" r="5"/>
<circle cx="1671.2" cy="1138.8" r="5"/>
<circle cx="1688.5" cy="1138.9" r="5"/>
<circle cx="1705.9" cy="1138.9" r="5"/>
<circle cx="1723.2" cy="1139.0" r="5"/>
<circle cx="1740.6" cy="1139.0" r="5"/>
<circle cx="1758.0" cy="1139.1" r="5"/>
<circle cx="1775.3" cy="1139.1" r="5"/>
<circle cx="1792.7" cy="1139.2" r="5"/>
<circle cx="1810.0" cy="1139.2" r="5"/>
<circle cx="1827.3" cy="1139.3" r="5"/>
<circle cx="1844.7" cy="1139.3" r="5"/>
<circle cx="1862.0" cy="1139.4" r="5"/>
<circle cx="1879.4" cy="1139.4" r="5"/>
<circle cx="1896.8" cy="1139.5" r="5"/>
<circle cx="1914.1" cy="1139.5" r="5"/>
<circle cx="1931.5" cy="1139.6" r="5"/>
<circle cx="1948.8" cy="1139.6" r="5"/>
<circle cx="1966.2" cy="1139.7" r="5"/>
<circle cx="1983.5" cy="1139.7" r="5"/>
</g>
</g>
<g fill="none" stroke-width="10" stroke-linecap="round">
<line x1="414" y1="574.6" x2="488" y2="574.6" stroke="#993300"/>
<line x1="414" y1="700" x2="440" y2="700" stroke="#000"/>
<line x1="414" y1="825.7" x2="432" y2="825.7" stroke="#1f5a1b"/>
<line x1="449" y1="825.7" x2="466" y2="825.7" stroke="#1f5a1b"/>
</g>
<g fill="#e00000">
<circle cx="414.0" cy="951.6" r="5"/>
<circle cx="431.4" cy="951.6" r="5"/>
<circle cx="448.8" cy="951.6" r="5"/>
<circle cx="466.2" cy="951.6" r="5"/>
<circle cx="483.6" cy="951.6" r="5"/>
</g>
<g font-size="70">
<text transform="translate(495.80 596.80) scale(0.9950 1.0400)">Cork</text>
<text transform="translate(491.00 726.00) scale(0.9900 1.0600)">C-B<tspan font-style="italic">i</tspan>B</text>
<g transform="translate(497.2 847.6) scale(0.993 1.037)"><text x="0" y="0">C-</text><text x="0" y="0" transform="translate(66.5 0) skewX(-14)">g</text><text x="105" y="0">-PMMA</text></g>
<text transform="translate(494.00 972.80) scale(1.0000 1.0200)">PMMA</text>
</g>
</svg></body></html>
